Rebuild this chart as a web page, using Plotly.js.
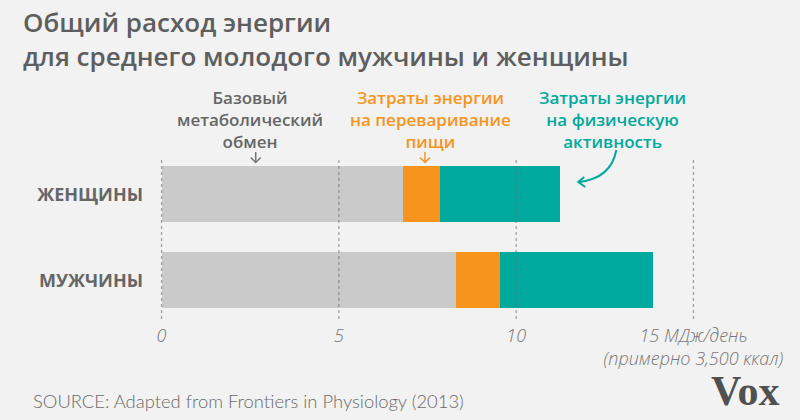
<!DOCTYPE html>
<html><head><meta charset="utf-8">
<script src="https://cdn.plot.ly/plotly-3.0.1.min.js"></script>
<style>html,body{margin:0;padding:0;background:#f1f2f1;}#chart{width:800px;height:420px;}</style>
</head><body><div id="chart"></div>
<script>
// ---- data ----
const groups = ['ЖЕНЩИНЫ', 'МУЖЧИНЫ'];
const bmr = [6.8, 8.3];          // базовый метаболический обмен, МДж/день
const digestion = [1.05, 1.25];  // затраты на переваривание пищи
const activity = [3.4, 4.3];     // затраты на физическую активность
const seriesNames = ['Базовый метаболический обмен', 'Затраты энергии на переваривание пищи', 'Затраты энергии на физическую активность'];
const tickVals = [0, 5, 10, 15];
const tickText = ['0', '5', '10', '15 МДж/день<br>(примерно 3,500 ккал)'];
const titleLines = ['Общий расход энергии', 'для среднего молодого мужчины и женщины'];
const labelBmr = ['Базовый', 'метаболический', 'обмен'];
const labelDigestion = ['Затраты энергии', 'на переваривание', 'пищи'];
const labelActivity = ['Затраты энергии', 'на физическую', 'активность'];
const sourceText = 'SOURCE: Adapted from Frontiers in Physiology (2013)';

// ---- layout geometry ----
const W = 800, H = 420;
const pxPerUnit = 35.4;
const xr = [-0.1, 15.1];
const L = 162 + xr[0] * pxPerUnit;
const PW = (xr[1] - xr[0]) * pxPerUnit;
const R = W - L - PW;
const T = 160, B = 101;
const PH = H - T - B;
const px = v => (v - L) / PW;
const py = v => (H - B - v) / PH;

const GRAY = '#666666', ORANGE = '#f7941d', TEAL = '#00a99d';
const colors = ['#cacaca', ORANGE, TEAL];

const traces = [bmr, digestion, activity].map((vals, i) => ({
  type: 'bar', orientation: 'h', x: vals, y: groups, name: seriesNames[i],
  marker: {color: colors[i], line: {width: 0}}, width: 0.65, hoverinfo: 'x+name'
}));

function ann(text, x, y, color, size, opts) {
  return Object.assign({text: text, xref: 'paper', yref: 'paper', x: px(x), y: py(y), xanchor: 'center', yanchor: 'middle',
    showarrow: false, font: {family: 'Open Sans', size: size, color: color, weight: 600}}, opts || {});
}
const annotations = [
  ann(titleLines.join('<br>'), 22, 39, '#5e5e5e', 26, {xanchor: 'left', align: 'left'}),
  ann(labelBmr.join('<br>'), 250, 119, GRAY, 17),
  ann(labelDigestion.join('<br>'), 430, 119, ORANGE, 17),
  ann(labelActivity.join('<br>'), 612, 119, TEAL, 17),
  ann(sourceText, 32, 401, '#6a6a6a', 18.4, {xanchor: 'left', font: {family: 'Lato', size: 18.4, color: '#6a6a6a', weight: 300}}),
  ann('Vox', 744, 391, '#505050', 42, {font: {family: 'Liberation Serif', size: 42, color: '#505050', weight: 700}})
];

function downArrow(x, color) {
  return {type: 'path', xref: 'paper', yref: 'paper',
    path: `M ${px(x)} ${py(152)} L ${px(x)} ${py(162.5)} M ${px(x - 5)} ${py(157.5)} L ${px(x)} ${py(162.5)} L ${px(x + 5)} ${py(157.5)}`,
    line: {color: color, width: 1.5}};
}
// dotted gridlines drawn above the bars, at the tick values
const gridShapes = tickVals.map(v => ({type: 'line', xref: 'x', yref: 'paper', x0: v, x1: v, y0: 0, y1: 1, layer: 'above',
  line: {color: 'rgba(110,110,110,0.6)', width: 1.3, dash: 'dot'}}));
const shapes = gridShapes.concat([
  downArrow(256, '#777777'),
  downArrow(425, ORANGE),
  {type: 'path', xref: 'paper', yref: 'paper', path: `M ${px(616)} ${py(150)} Q ${px(611)} ${py(178)} ${px(579)} ${py(182)}`,
    line: {color: TEAL, width: 2}},
  {type: 'path', xref: 'paper', yref: 'paper', path: `M ${px(584)} ${py(177)} L ${px(578)} ${py(182)} L ${px(585)} ${py(187)}`,
    line: {color: TEAL, width: 2}}
]);

const layout = {
  width: W, height: H, paper_bgcolor: '#f1f2f1', plot_bgcolor: '#f1f2f1',
  margin: {l: L, r: R, t: T, b: B, pad: 0},
  barmode: 'stack', showlegend: false,
  xaxis: {range: xr, tickvals: tickVals, ticktext: tickText, showgrid: false,
    zeroline: false, showline: false, ticks: '', ticklabelstandoff: 4,
    tickfont: {family: 'Open Sans', size: 18, color: '#777777', style: 'italic', weight: 300}, fixedrange: true},
  yaxis: {type: 'category', categoryarray: ['МУЖЧИНЫ', 'ЖЕНЩИНЫ'], categoryorder: 'array', range: [-0.45, 1.4],
    showgrid: false, zeroline: false, showline: false, ticks: '', ticklabelstandoff: 14,
    tickfont: {family: 'Open Sans', size: 18, color: GRAY, weight: 700}, fixedrange: true},
  annotations: annotations, shapes: shapes
};
Plotly.newPlot('chart', traces, layout, {displayModeBar: false, staticPlot: true});
</script></body></html>
